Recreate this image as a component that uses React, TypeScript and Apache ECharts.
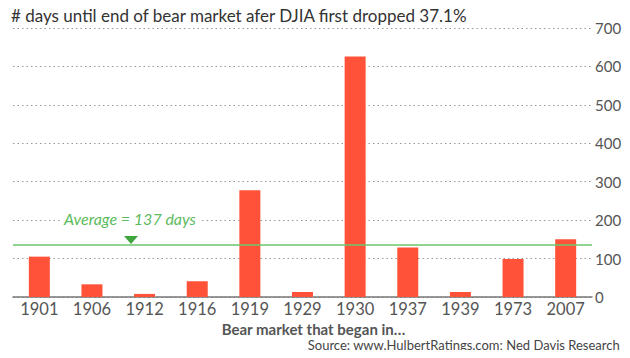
import React, { useEffect, useRef } from "react";
import * as echarts from "echarts";

const categories = ["1901", "1906", "1912", "1916", "1919", "1929", "1930", "1937", "1939", "1973", "2007"];
const daysValues = [105, 33, 8, 41, 278, 13, 626, 129, 13, 99, 150];
const averageDays = 137;
const yTicks = [0, 100, 200, 300, 400, 500, 600, 700];

const TITLE = "# days until end of bear market afer DJIA first dropped 37.1%";
const X_NAME = "Bear market that began in…";
const SOURCE = "Source: www.HulbertRatings.com; Ned Davis Research";

export default function App() {
  const ref = useRef<HTMLDivElement>(null);
  useEffect(() => {
    if (!ref.current) return;
    const chart = echarts.init(ref.current, null, { renderer: "svg" });
    chart.setOption({
      animation: false,
      backgroundColor: "#ffffff",
      textStyle: { fontFamily: "Lato" },
      title: {
        text: TITLE,
        left: 6,
        top: 2,
        textStyle: { fontFamily: "Lato", fontSize: 17, fontWeight: "normal", color: "#333" },
      },
      grid: { left: 13, right: 38, top: 28, bottom: 61 },
      xAxis: {
        type: "category",
        data: categories,
        name: X_NAME,
        nameLocation: "middle",
        nameGap: 22,
        nameTextStyle: {
          fontFamily: "Lato",
          fontSize: 15,
          fontWeight: "bold",
          color: "#555",
          padding: [0, 0, 0, 22],
        },
        axisLine: { lineStyle: { color: "#777", width: 1.5 } },
        axisTick: { show: false },
        axisLabel: { fontFamily: "Lato", fontSize: 16.5, color: "#555", margin: 3, interval: 0 },
      },
      yAxis: {
        type: "value",
        position: "right",
        min: yTicks[0],
        max: yTicks[yTicks.length - 1],
        interval: 100,
        axisLine: { show: false },
        axisTick: { show: false },
        axisLabel: { fontFamily: "Lato", fontSize: 15, color: "#555", margin: 3 },
        splitLine: { lineStyle: { color: "#999", type: [1.5, 3], width: 1.2 } },
      },
      series: [
        {
          type: "bar",
          data: daysValues,
          barWidth: 21,
          itemStyle: { color: "#FF5238" },
          markLine: {
            silent: true,
            symbol: "none",
            label: { show: false },
            lineStyle: { color: "#6CC66C", type: "solid", width: 1.5 },
            data: [{ yAxis: averageDays }],
          },
        },
      ],
      graphic: [
        {
          type: "text",
          left: 61,
          top: 210,
          style: {
            text: "Average = 137 days",
            font: "italic 16px Lato",
            fill: "#5DBB5D",
            backgroundColor: "#ffffff",
            padding: [0, 3],
          },
          z: 100,
        },
        {
          type: "polygon",
          shape: { points: [[124, 236], [138, 236], [131, 244]] },
          style: { fill: "#3FA53F" },
          z: 100,
        },
        {
          type: "text",
          right: 10,
          top: 338,
          style: { text: SOURCE, font: "13px Lato", fill: "#444" },
        },
      ],
    });
    return () => chart.dispose();
  }, []);
  return <div ref={ref} style={{ width: 630, height: 358, margin: -8 }} />;
}
